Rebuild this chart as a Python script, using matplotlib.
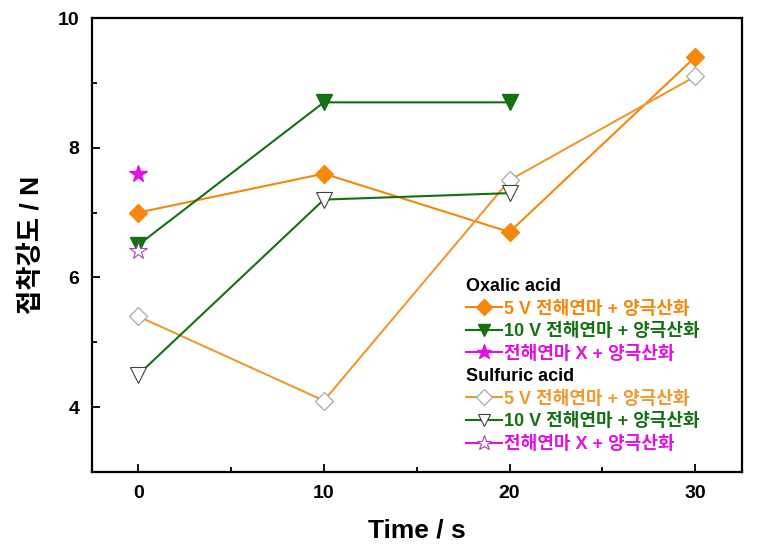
import matplotlib
matplotlib.use('Agg')
import matplotlib.pyplot as plt

plt.rcParams['font.family'] = ['Liberation Sans', 'Noto Sans CJK KR']
plt.rcParams['font.weight'] = 'bold'

time = [0, 10, 20, 30]
time10 = [0, 10, 20]
time0 = [0]

oxalic5V = [7.0, 7.6, 6.7, 9.4]
oxalic10V = [6.5, 8.7, 8.7]
oxalicX = [7.6]
sulfuric5V = [5.4, 4.1, 7.5, 9.1]
sulfuric10V = [4.5, 7.2, 7.3]
sulfuricX = [6.4]

labels5V = '5 V 전해연마 + 양극산화'
labels10V = '10 V 전해연마 + 양극산화'
labelsX = '전해연마 X + 양극산화'

orange = '#F5870A'
orangeLight = '#EE9A30'
green = '#137013'
magenta = '#E010E0'

fig = plt.figure(figsize=(7.71, 5.54), dpi=100)
ax = fig.add_axes([0.119, 0.148, 0.843, 0.8195])

ax.plot(time, oxalic5V, color=orange, marker='D', markersize=9, lw=1.5,
        markeredgecolor=orange, label=labels5V)
ax.plot(time10, oxalic10V, color=green, marker='v', markersize=11, lw=1.5,
        markeredgecolor=green, label=labels10V)
ax.plot(time0, oxalicX, color=magenta, marker='*', markersize=13, lw=1.5,
        markeredgecolor=magenta, label=labelsX)
ax.plot(time, sulfuric5V, color=orangeLight, marker='D', markersize=9, lw=1.5,
        markerfacecolor='white', markeredgecolor='#A0A0A0', markeredgewidth=0.8,
        label=labels5V)
ax.plot(time10, sulfuric10V, color=green, marker='v', markersize=11, lw=1.5,
        markerfacecolor='white', markeredgecolor='#404040', markeredgewidth=0.8,
        label=labels10V)
ax.plot(time0, sulfuricX, color=magenta, marker='*', markersize=13, lw=1.5,
        markerfacecolor='white', markeredgecolor='#B040B0', markeredgewidth=0.8,
        label=labelsX)

ax.set_xlim(-2.5, 32.5)
ax.set_ylim(3, 10)
ax.set_xticks([0, 10, 20, 30])
ax.set_xticks([5, 15, 25], minor=True)
ax.set_yticks([4, 6, 8, 10])
ax.set_yticks([5, 7, 9], minor=True)
ax.tick_params(which='both', direction='in', width=1.3)
ax.tick_params(which='major', length=6, labelsize=14, pad=9)
ax.tick_params(which='minor', length=3.5)
for s in ax.spines.values():
    s.set_linewidth(1.6)
ax.set_xlabel('Time / s', fontsize=19, fontweight='bold', labelpad=12)
ax.set_ylabel('접착강도 / N', fontsize=19, fontweight='bold', labelpad=10)

# legend with group headers
handles, labs = ax.get_legend_handles_labels()
blank = plt.Line2D([], [], linestyle='none')
hs = [blank] + handles[:3] + [blank] + handles[3:]
ls = ['Oxalic acid'] + labs[:3] + ['Sulfuric acid'] + labs[3:]
leg = ax.legend(hs, ls, loc='upper left', bbox_to_anchor=(0.565, 0.443),
                frameon=False, handlelength=2.0, handletextpad=0.12,
                labelspacing=0.3, borderaxespad=0, markerscale=0.85,
                prop={'weight': 'bold', 'size': 13})
colors = ['black', orange, green, magenta, 'black', orangeLight, green, magenta]
for t, c in zip(leg.get_texts(), colors):
    t.set_color(c)
rows = leg._legend_handle_box.get_children()[0].get_children()
for i in (0, 4):
    rows[i].get_children()[0].width = 0
    rows[i].sep = 0

fig.savefig('out.png', dpi=100)
